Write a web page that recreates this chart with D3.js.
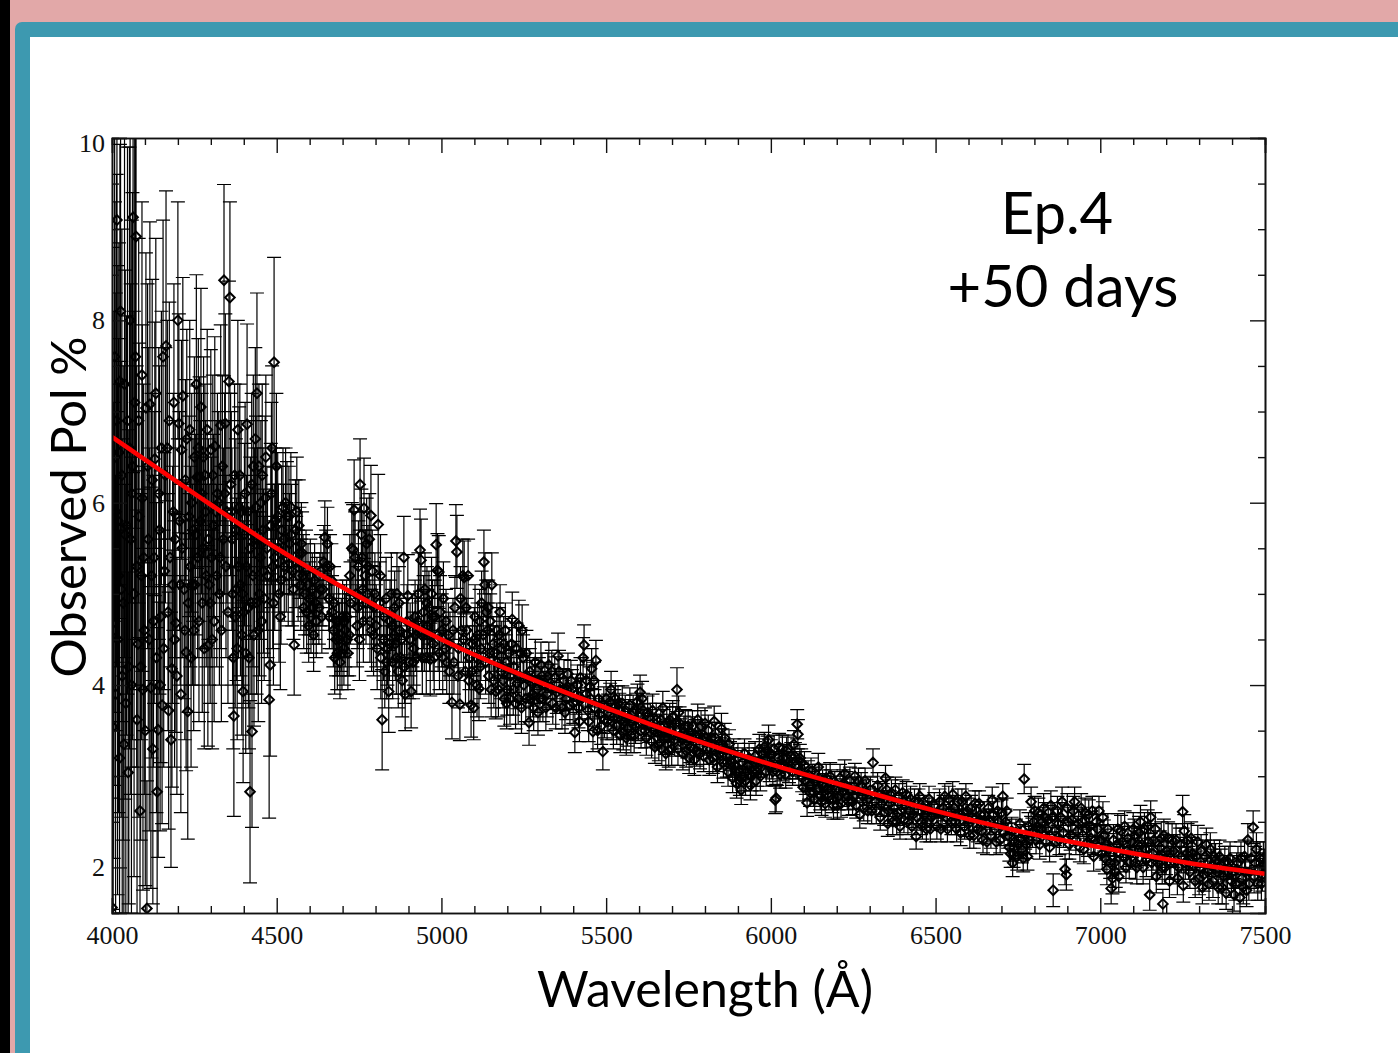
<!DOCTYPE html>
<html>
<head>
<meta charset="utf-8">
<script src="https://cdn.jsdelivr.net/npm/d3@7"></script>
<style>
html, body { margin: 0; padding: 0; background: #fff; overflow: hidden; }
svg { display: block; }
.serif text { font-family: "Liberation Serif", serif; font-size: 26px; fill: #111; }
.label { font-family: Lato, "Open Sans", sans-serif; fill: #000; }
</style>
</head>
<body>
<div id="viz"></div>
<script>
// [wavelength, observed pol, pol error], one array per stretch
const obs4000 = [[4000,1.56,1.2],[4003,3.54,2.0],[4006,5.5,2.6],[4009,6.5,2.8],[4012,5.9,2.4],[4015,9.1,2.1],[4018,5.8,2.8],[4021,6.55,2.3],[4024,7.33,2.6],[4028,5.05,2.5],[4031,4.1,2.6],[4036,3.35,2.4],[4040,5.65,2.9],[4044,5.75,2.3],[4049,3.04,2.2],[4053,6.6,3.3],[4057,5.6,2.8],[4060,6.1,3.0],[4064,9.13,2.8],[4069,7.1,3.1],[4073,8.92,3.2],[4076,3.62,2.3],[4079,4.45,1.9],[4082,5.85,1.9],[4085,2.62,1.9],[4089,5.2,1.8],[4092,6.05,1.9],[4094,3.95,2.2],[4098,4.6,1.8],[4103,7.04,1.7],[4106,1.55,1.4],[4110,5.6,2.1],[4115,7.08,2.0],[4118,3.97,2.2],[4122,6.25,2.2],[4126,4.7,1.6],[4130,6.48,1.5],[4137,2.83,1.8],[4140,3.51,1.4],[4144,5.7,1.8],[4148,4.75,1.6],[4152,3.78,1.3]];
const obs4000b = [[4002,6.2,2.6],[4005,4.6,2.5],[4008,7.6,2.9],[4011,3.9,2.4],[4014,6.9,2.7],[4017,4.5,2.8],[4020,5.2,2.6],[4023,3.2,2.5],[4026,8.1,3.0],[4030,6.3,2.7],[4034,4.9,2.6],[4038,7.3,3.0],[4042,3.8,2.4],[4047,6.9,3.0],[4051,4.2,2.6],[4055,8.0,3.1],[4059,4.0,2.5],[4062,6.4,3.0],[4067,5.0,3.1],[4071,7.6,3.1],[4075,5.3,2.2],[4081,6.9,2.0],[4087,4.2,1.9],[4091,7.4,1.9],[4096,5.4,1.9],[4101,3.5,1.7],[4108,6.4,2.0],[4113,4.5,2.1],[4120,5.2,2.0],[4124,3.3,1.7],[4128,5.4,1.6],[4133,7.2,1.7],[4135,4.3,1.7],[4142,6.1,1.6],[4146,4.0,1.6],[4150,6.6,1.5]];
const obs4150 = [[4155,7.6,1.5],[4159,5.25,1.3],[4164,7.72,1.7],[4168,6.6,1.4],[4172,3.72,1.3],[4176,5.4,1.2],[4182,4.18,1.3],[4186,5.9,1.3],[4190,4.5,1.4],[4194,4.68,1.2],[4200,8.0,1.3],[4203,6.87,1.2],[4207,5.1,1.1],[4211,6.58,1.2],[4215,7.17,1.3],[4219,5.05,1.2],[4223,6.25,1.1],[4225,4.36,1.3],[4230,3.71,1.4],[4234,5.85,1.1],[4238,5.3,1.1],[4242,6.0,1.2],[4246,5.7,1.0],[4250,6.5,1.1],[4254,5.65,1.1],[4258,6.28,1.0],[4262,6.6,1.2],[4266,6.28,1.1],[4270,7.05,1.3],[4274,4.9,1.2],[4278,6.5,1.1],[4282,6.3,1.0],[4286,5.2,1.0],[4291,4.43,1.1],[4295,5.1,1.1],[4300,6.58,1.1],[4304,4.5,1.2],[4308,5.75,1.0],[4312,6.62,1.2],[4316,5.9,1.0],[4320,6.1,1.1],[4326,5.0,1.0],[4330,6.85,1.1],[4335,6.4,1.0],[4340,8.44,1.05],[4344,6.87,1.2],[4349,5.9,1.0],[4355,7.33,1.1],[4358,8.25,1.05],[4362,5.9,1.1],[4366,5.0,1.0],[4370,3.66,1.1],[4374,4.75,1.0],[4378,5.05,1.0],[4382,6.8,1.2],[4386,5.95,1.1],[4390,5.1,1.0],[4394,4.55,1.1],[4398,3.93,1.0],[4402,5.65,1.0],[4406,4.35,1.1],[4410,6.86,1.1],[4414,4.85,1.1],[4419,2.83,1.0],[4422,4.9,1.0],[4425,3.49,1.05],[4429,6.4,1.0],[4433,5.6,1.0],[4437,5.95,1.0],[4440,7.2,1.1],[4444,4.6,1.0],[4448,5.0,0.9],[4452,6.0,0.9],[4456,6.3,1.0],[4460,5.25,0.9],[4465,6.05,0.9],[4470,5.5,0.9],[4477,3.84,1.3],[4480,4.22,1.0],[4484,6.1,1.0],[4488,5.3,0.9],[4492,7.54,1.15],[4496,5.8,0.8],[4499,6.4,0.8]];
const obs4150b = [[4157,4.4,1.3],[4162,6.3,1.4],[4170,4.8,1.3],[4174,6.9,1.3],[4179,3.4,1.4],[4184,5.1,1.3],[4188,7.1,1.3],[4192,5.6,1.3],[4197,4.1,1.3],[4205,5.8,1.2],[4209,3.9,1.3],[4213,5.5,1.2],[4221,4.6,1.2],[4227,6.7,1.2],[4232,4.9,1.2],[4236,6.8,1.2],[4240,4.3,1.2],[4244,5.1,1.1],[4248,4.6,1.1],[4252,5.1,1.1],[4256,7.3,1.2],[4260,5.4,1.1],[4264,4.7,1.1],[4268,5.8,1.1],[4272,6.1,1.1],[4276,5.5,1.1],[4280,4.4,1.1],[4284,5.9,1.0],[4289,6.8,1.1],[4293,5.6,1.1],[4298,4.9,1.1],[4302,5.4,1.1],[4306,6.3,1.1],[4310,4.7,1.1],[4318,5.2,1.0],[4324,6.0,1.0],[4328,5.4,1.0],[4332,4.6,1.0],[4338,5.6,1.0],[4342,6.1,1.1],[4346,5.3,1.0],[4352,4.8,1.0],[4360,6.2,1.0],[4364,5.6,1.0],[4368,4.3,1.0],[4372,6.3,1.0],[4376,5.7,1.0],[4380,4.4,1.0],[4384,5.3,1.0],[4388,6.3,1.0],[4392,5.9,1.0],[4396,5.0,1.0],[4400,4.8,1.0],[4404,6.1,1.0],[4408,5.3,1.0],[4412,5.9,1.0],[4416,4.3,1.0],[4420,5.5,1.0],[4424,6.2,1.0],[4428,5.2,1.0],[4431,4.55,1.0],[4435,6.7,1.0],[4439,4.9,1.0],[4442,5.6,1.0],[4446,6.4,0.9],[4450,5.4,0.9],[4454,4.7,0.9],[4458,5.7,0.9],[4462,4.95,0.9],[4467,6.5,0.9],[4472,5.2,0.9],[4482,5.75,0.9],[4486,6.6,0.9],[4490,4.9,0.9],[4494,5.4,0.8]];
const obs4500 = [[4503,5.85,0.7],[4507,5.0,0.75],[4511,4.75,0.8],[4515,5.7,0.7],[4519,5.95,0.65],[4523,5.3,0.6],[4527,6.0,0.6],[4531,5.85,0.6],[4535,5.2,0.55],[4539,5.55,0.55],[4543,5.95,0.6],[4547,5.25,0.6],[4553,4.44,0.55],[4557,5.7,0.55],[4561,5.9,0.6],[4565,5.2,0.5],[4569,5.45,0.5],[4573,5.1,0.5],[4577,5.45,0.45],[4582,4.85,0.45],[4586,5.0,0.45],[4591,4.8,0.45],[4595,5.1,0.45],[4599,4.95,0.4],[4604,4.75,0.4],[4608,5.05,0.4],[4612,4.55,0.4],[4617,4.9,0.4],[4622,5.0,0.4],[4628,4.85,0.4],[4634,5.25,0.4],[4640,5.05,0.4],[4646,5.62,0.4],[4650,5.3,0.4],[4654,5.55,0.4],[4658,4.95,0.35],[4662,5.3,0.35],[4666,5.15,0.4],[4672,4.6,0.4],[4676,4.3,0.4],[4680,4.5,0.4],[4684,4.35,0.4],[4688,4.7,0.4],[4692,4.25,0.4],[4696,4.55,0.4],[4700,4.75,0.4],[4704,4.4,0.4],[4708,4.6,0.4],[4712,4.75,0.4],[4716,4.35,0.4],[4720,4.55,0.45],[4724,4.9,0.45],[4728,5.5,0.5],[4732,5.48,0.5],[4735,5.92,0.55],[4740,5.0,0.45],[4744,4.65,0.45],[4748,5.3,0.5],[4753,6.2,0.5],[4757,5.65,0.5],[4761,5.05,0.5],[4765,5.94,0.55],[4769,5.2,0.5],[4773,5.55,0.5],[4777,5.3,0.45],[4781,5.6,0.5],[4786,5.86,0.55],[4790,5.25,0.45],[4794,4.55,0.45],[4798,5.0,0.45],[4802,4.65,0.45],[4808,5.76,0.55],[4812,4.9,0.45],[4816,4.3,0.45],[4820,3.62,0.55],[4824,4.5,0.45],[4828,4.15,0.4],[4832,4.95,0.45],[4836,4.4,0.4],[4840,3.93,0.45],[4844,4.7,0.45],[4848,5.0,0.45],[4852,4.25,0.4],[4856,4.55,0.45],[4860,4.45,0.4],[4865,5.0,0.45],[4869,4.15,0.4],[4873,4.6,0.4],[4877,4.3,0.4],[4881,4.05,0.4],[4886,5.4,0.45],[4890,3.9,0.4],[4894,4.55,0.4],[4898,4.98,0.45],[4902,4.25,0.4],[4908,3.93,0.4],[4912,4.6,0.4],[4916,4.4,0.4],[4920,4.75,0.4],[4925,4.3,0.4],[4930,5.0,0.45],[4935,5.48,0.45],[4938,5.37,0.45],[4942,4.3,0.4],[4946,4.8,0.4],[4950,5.05,0.4],[4954,4.3,0.4],[4958,4.65,0.4],[4962,4.85,0.4],[4966,4.28,0.4],[4970,5.0,0.4],[4975,4.45,0.4],[4980,4.75,0.4],[4984,5.54,0.45],[4988,5.26,0.4],[4992,5.24,0.4],[4996,4.8,0.4]];
const obs4500b = [[4505,5.5,0.7],[4513,5.15,0.7],[4521,5.6,0.6],[4529,5.4,0.6],[4537,5.85,0.55],[4545,5.65,0.55],[4551,5.05,0.55],[4559,5.35,0.5],[4567,5.75,0.5],[4575,5.55,0.45],[4580,5.2,0.45],[4589,5.25,0.45],[4597,4.65,0.4],[4602,5.2,0.4],[4610,4.85,0.4],[4615,5.15,0.4],[4620,4.7,0.4],[4631,5.05,0.4],[4637,4.75,0.4],[4643,5.35,0.4],[4660,4.75,0.35],[4668,4.8,0.4],[4674,4.9,0.4],[4682,4.7,0.4],[4690,4.5,0.4],[4698,4.35,0.4],[4706,4.7,0.4],[4714,4.5,0.4],[4722,5.2,0.45],[4738,5.4,0.5],[4746,4.85,0.45],[4751,4.5,0.45],[4759,5.4,0.5],[4763,4.7,0.45],[4771,4.9,0.45],[4775,5.0,0.45],[4783,4.7,0.45],[4788,4.6,0.45],[4796,4.85,0.45],[4805,4.4,0.45],[4815,5.2,0.45],[4826,4.75,0.4],[4834,4.25,0.4],[4842,4.45,0.4],[4850,4.65,0.4],[4858,4.85,0.4],[4863,4.3,0.4],[4871,4.9,0.4],[4879,4.5,0.4],[4888,4.2,0.4],[4896,4.7,0.4],[4905,4.5,0.4],[4914,4.25,0.4],[4922,4.55,0.4],[4928,4.7,0.4],[4940,4.55,0.4],[4948,4.55,0.4],[4956,4.9,0.4],[4964,4.55,0.4],[4973,4.75,0.4],[4978,4.3,0.4],[4990,4.55,0.4],[4994,4.35,0.4]];
const obs5000 = [[5001,4.6,0.4],[5006,4.95,0.4],[5011,4.4,0.35],[5016,4.25,0.35],[5021,4.55,0.35],[5026,4.45,0.35],[5032,3.81,0.4],[5038,4.25,0.35],[5044,5.58,0.4],[5047,5.46,0.4],[5052,4.4,0.35],[5056,3.79,0.4],[5060,4.6,0.35],[5065,5.2,0.4],[5069,5.18,0.4],[5073,4.15,0.35],[5077,4.6,0.35],[5081,5.2,0.4],[5085,4.3,0.35],[5090,3.78,0.35],[5094,4.45,0.35],[5098,3.75,0.35],[5102,4.75,0.35],[5106,4.3,0.35],[5110,4.55,0.35],[5114,3.96,0.35],[5118,4.2,0.35],[5122,4.9,0.35],[5129,5.35,0.35],[5132,5.1,0.35],[5136,4.8,0.35],[5140,4.6,0.3],[5144,4.1,0.3],[5148,4.7,0.3],[5153,5.1,0.35],[5157,4.45,0.3],[5161,4.35,0.3],[5165,3.93,0.3],[5170,4.25,0.3],[5175,4.55,0.3],[5178,4.8,0.3],[5183,4.4,0.3],[5187,4.05,0.3],[5191,3.85,0.3],[5196,4.25,0.3],[5200,3.95,0.28],[5205,4.35,0.28],[5210,4.1,0.28],[5215,4.72,0.3],[5220,4.2,0.28],[5225,3.8,0.28],[5230,4.02,0.28],[5235,4.65,0.28],[5240,4.35,0.28],[5245,4.6,0.28],[5250,4.0,0.25],[5256,3.85,0.25],[5260,4.1,0.25],[5266,3.59,0.25],[5270,3.85,0.25],[5275,4.02,0.25],[5280,3.75,0.25],[5285,4.25,0.25],[5290,3.95,0.25],[5296,4.05,0.25],[5302,4.22,0.25],[5308,3.85,0.25],[5314,4.0,0.25],[5320,3.9,0.25],[5326,4.22,0.25],[5332,3.98,0.25],[5338,3.8,0.23],[5344,4.08,0.23],[5350,3.92,0.23],[5354,4.32,0.25],[5360,3.95,0.23],[5366,3.75,0.23],[5372,4.05,0.23],[5378,3.85,0.23],[5384,4.12,0.23],[5390,3.78,0.22],[5396,3.95,0.22],[5405,3.48,0.22],[5410,3.9,0.22],[5416,3.75,0.22],[5422,4.08,0.22],[5430,4.3,0.22],[5433,4.44,0.22],[5438,3.9,0.22],[5444,3.72,0.22],[5450,3.98,0.22],[5456,4.18,0.22],[5460,3.49,0.22],[5465,3.75,0.2],[5469,4.27,0.22],[5474,3.5,0.2],[5480,3.68,0.2],[5490,3.27,0.2],[5495,3.62,0.2]];
const obs5000b = [[5004,4.3,0.4],[5014,4.7,0.35],[5024,4.15,0.35],[5035,4.6,0.35],[5041,4.85,0.35],[5050,4.1,0.35],[5058,4.95,0.35],[5067,4.5,0.35],[5075,4.85,0.35],[5083,4.05,0.35],[5092,4.15,0.35],[5100,4.5,0.35],[5108,4.0,0.35],[5116,4.7,0.35],[5120,4.4,0.35],[5127,4.55,0.35],[5134,4.25,0.35],[5142,4.85,0.3],[5146,4.35,0.3],[5151,3.95,0.3],[5159,4.05,0.3],[5168,4.6,0.3],[5173,3.95,0.3],[5181,4.15,0.3],[5189,4.45,0.3],[5194,4.6,0.3],[5198,3.8,0.28],[5208,3.85,0.28],[5213,4.45,0.28],[5218,3.95,0.28],[5228,4.4,0.28],[5233,3.85,0.28],[5238,4.1,0.28],[5243,3.75,0.28],[5248,4.3,0.25],[5258,4.35,0.25],[5268,4.15,0.25],[5277,3.9,0.25],[5283,4.05,0.25],[5293,3.7,0.25],[5299,3.85,0.25],[5305,4.1,0.25],[5317,3.75,0.25],[5323,4.1,0.25],[5335,4.15,0.23],[5347,3.75,0.23],[5357,4.15,0.23],[5369,3.95,0.23],[5375,3.7,0.23],[5381,3.95,0.22],[5393,4.05,0.22],[5400,3.8,0.22],[5413,4.0,0.22],[5419,3.6,0.22],[5426,3.85,0.22],[5441,4.05,0.22],[5447,3.6,0.22],[5453,3.85,0.22],[5463,4.05,0.2],[5477,3.85,0.2],[5485,3.55,0.2],[5493,3.78,0.2]];
const obs5500 = [[5500,3.85,0.2],[5506,3.7,0.2],[5512,3.82,0.2],[5518,3.6,0.2],[5525,3.75,0.2],[5532,3.55,0.2],[5540,3.72,0.19],[5546,3.62,0.19],[5552,3.48,0.19],[5558,3.7,0.19],[5565,3.52,0.19],[5572,3.78,0.19],[5578,3.6,0.19],[5585,3.45,0.19],[5592,3.72,0.19],[5598,3.58,0.19],[5603,3.92,0.19],[5609,3.85,0.19],[5615,3.6,0.19],[5622,3.42,0.19],[5630,3.55,0.18],[5638,3.38,0.18],[5645,3.5,0.18],[5652,3.62,0.18],[5660,3.35,0.18],[5666,3.62,0.18],[5672,3.75,0.18],[5678,3.42,0.18],[5684,3.58,0.18],[5690,3.28,0.18],[5696,3.5,0.18],[5702,3.65,0.18],[5708,3.4,0.18],[5715,3.95,0.24],[5720,3.7,0.18],[5726,3.45,0.18],[5733,3.25,0.18],[5740,3.55,0.18],[5746,3.38,0.18],[5752,3.2,0.17],[5758,3.48,0.17],[5765,3.3,0.17],[5772,3.45,0.17],[5778,3.62,0.17],[5785,3.25,0.17],[5792,3.4,0.17],[5800,3.58,0.17],[5806,3.3,0.17],[5813,3.18,0.17],[5820,3.42,0.17],[5828,3.6,0.17],[5835,3.22,0.17],[5842,3.35,0.17],[5850,3.52,0.17],[5856,3.15,0.17],[5863,3.3,0.16],[5870,3.05,0.16],[5876,3.22,0.16],[5884,2.98,0.16],[5890,3.12,0.16],[5896,2.92,0.16],[5903,3.05,0.16],[5910,2.85,0.16],[5916,3.0,0.16],[5923,2.95,0.16],[5930,3.12,0.16],[5938,2.9,0.16],[5945,3.05,0.16],[5952,3.22,0.16],[5958,3.05,0.16],[5965,3.3,0.16],[5972,3.15,0.16],[5980,3.32,0.16],[5986,3.05,0.16],[5993,3.4,0.16]];
const obs5500b = [[5503,3.6,0.2],[5515,3.95,0.2],[5522,3.5,0.2],[5528,3.85,0.2],[5536,3.8,0.19],[5543,3.45,0.19],[5549,3.8,0.19],[5555,3.6,0.19],[5561,3.42,0.19],[5569,3.65,0.19],[5575,3.45,0.19],[5582,3.7,0.19],[5589,3.55,0.19],[5595,3.82,0.19],[5606,3.5,0.19],[5612,3.72,0.19],[5618,3.5,0.19],[5626,3.7,0.18],[5634,3.62,0.18],[5641,3.72,0.18],[5648,3.32,0.18],[5656,3.48,0.18],[5663,3.5,0.18],[5669,3.3,0.18],[5675,3.55,0.18],[5681,3.25,0.18],[5687,3.42,0.18],[5693,3.62,0.18],[5699,3.3,0.18],[5705,3.45,0.18],[5711,3.58,0.18],[5718,3.3,0.18],[5723,3.58,0.18],[5730,3.4,0.18],[5736,3.48,0.18],[5743,3.28,0.18],[5749,3.55,0.17],[5755,3.32,0.17],[5762,3.55,0.17],[5768,3.18,0.17],[5775,3.28,0.17],[5782,3.45,0.17],[5788,3.55,0.17],[5796,3.22,0.17],[5803,3.42,0.17],[5810,3.5,0.17],[5817,3.3,0.17],[5824,3.2,0.17],[5832,3.42,0.17],[5838,3.1,0.17],[5846,3.25,0.17],[5853,3.35,0.17],[5860,3.42,0.16],[5866,3.15,0.16],[5873,3.35,0.16],[5880,3.15,0.16],[5887,3.25,0.16],[5893,3.05,0.16],[5900,3.2,0.16],[5906,2.95,0.16],[5913,3.15,0.16],[5920,3.25,0.16],[5927,3.05,0.16],[5934,3.2,0.16],[5941,3.0,0.16],[5948,3.15,0.16],[5955,2.95,0.16],[5962,3.15,0.16],[5968,3.0,0.16],[5976,3.25,0.16],[5983,3.18,0.16],[5990,3.28,0.16],[5996,3.1,0.16]];
const obs6000 = [[6000,3.25,0.15],[6006,3.05,0.15],[6013,2.74,0.15],[6016,2.76,0.15],[6022,3.2,0.15],[6028,3.02,0.15],[6035,3.3,0.15],[6042,3.12,0.15],[6048,3.28,0.15],[6055,3.08,0.15],[6062,3.22,0.15],[6070,3.35,0.15],[6076,3.12,0.15],[6080,3.57,0.16],[6082,3.46,0.16],[6088,3.2,0.15],[6095,2.98,0.15],[6102,3.12,0.15],[6110,2.71,0.15],[6116,2.9,0.15],[6122,3.05,0.15],[6130,2.82,0.15],[6137,2.95,0.15],[6144,3.1,0.15],[6150,2.78,0.15],[6157,2.92,0.15],[6165,2.7,0.15],[6172,2.85,0.15],[6180,3.0,0.15],[6187,2.75,0.15],[6194,2.9,0.15],[6202,2.68,0.15],[6210,2.98,0.15],[6217,2.82,0.15],[6224,3.03,0.15],[6232,2.78,0.15],[6240,2.95,0.15],[6248,2.72,0.14],[6255,3.0,0.14],[6262,2.85,0.14],[6270,2.58,0.15],[6278,2.78,0.14],[6286,2.95,0.14],[6294,2.62,0.14],[6302,2.85,0.14],[6310,3.15,0.15],[6316,2.72,0.14],[6324,2.9,0.14],[6332,2.55,0.14],[6340,2.78,0.14],[6348,2.98,0.14],[6355,2.48,0.14],[6362,2.7,0.14],[6370,2.5,0.14],[6378,2.85,0.14],[6385,2.6,0.14],[6392,2.45,0.14],[6400,2.82,0.14],[6408,2.68,0.14],[6416,2.5,0.14],[6424,2.75,0.14],[6432,2.58,0.14],[6441,2.34,0.14],[6448,2.72,0.14],[6456,2.5,0.14],[6464,2.65,0.14],[6472,2.42,0.14],[6480,2.75,0.14],[6488,2.55,0.14],[6496,2.68,0.14]];
const obs6000b = [[6003,3.12,0.15],[6010,3.3,0.15],[6019,3.05,0.15],[6025,3.32,0.15],[6032,3.1,0.15],[6038,3.2,0.15],[6045,3.02,0.15],[6052,3.3,0.15],[6058,3.12,0.15],[6066,3.05,0.15],[6073,3.22,0.15],[6085,3.05,0.15],[6092,3.15,0.15],[6098,2.88,0.15],[6106,2.95,0.15],[6113,3.02,0.15],[6119,2.82,0.15],[6126,2.98,0.15],[6133,2.75,0.15],[6140,2.85,0.15],[6147,2.98,0.15],[6154,2.72,0.15],[6161,2.88,0.15],[6168,2.98,0.15],[6176,2.78,0.15],[6183,2.92,0.15],[6190,2.68,0.15],[6198,2.85,0.15],[6206,2.78,0.15],[6213,2.7,0.15],[6220,2.92,0.15],[6228,2.9,0.15],[6236,2.72,0.15],[6244,2.85,0.14],[6252,2.78,0.14],[6259,2.68,0.14],[6266,2.95,0.14],[6274,2.9,0.14],[6282,2.65,0.14],[6290,2.82,0.14],[6298,2.75,0.14],[6306,2.62,0.14],[6320,2.62,0.14],[6328,2.8,0.14],[6336,2.7,0.14],[6344,2.6,0.14],[6352,2.85,0.14],[6358,2.62,0.14],[6366,2.82,0.14],[6374,2.65,0.14],[6382,2.5,0.14],[6389,2.78,0.14],[6396,2.62,0.14],[6404,2.52,0.14],[6412,2.8,0.14],[6420,2.62,0.14],[6428,2.45,0.14],[6436,2.72,0.14],[6444,2.55,0.14],[6452,2.78,0.14],[6460,2.45,0.14],[6468,2.58,0.14],[6476,2.62,0.14],[6484,2.42,0.14],[6492,2.58,0.14]];
const obs6500 = [[6504,2.45,0.14],[6512,2.72,0.14],[6520,2.58,0.14],[6528,2.78,0.14],[6536,2.42,0.14],[6544,2.62,0.14],[6552,2.8,0.14],[6560,2.5,0.14],[6568,2.72,0.14],[6576,2.38,0.14],[6584,2.6,0.14],[6592,2.78,0.14],[6600,2.48,0.14],[6608,2.65,0.14],[6616,2.35,0.14],[6624,2.55,0.14],[6632,2.7,0.14],[6640,2.4,0.14],[6648,2.58,0.14],[6656,2.28,0.14],[6664,2.5,0.14],[6672,2.74,0.14],[6680,2.42,0.14],[6688,2.62,0.14],[6696,2.3,0.14],[6704,2.78,0.14],[6712,2.5,0.14],[6720,2.35,0.14],[6728,2.15,0.15],[6734,2.05,0.15],[6740,2.28,0.15],[6748,2.12,0.15],[6756,2.48,0.15],[6762,2.2,0.15],[6769,2.97,0.16],[6776,2.25,0.15],[6782,2.45,0.15],[6790,2.72,0.16],[6798,2.5,0.16],[6805,2.3,0.15],[6812,2.6,0.16],[6820,2.42,0.16],[6828,2.65,0.16],[6835,2.28,0.16],[6842,2.52,0.16],[6850,2.68,0.16],[6857,1.75,0.18],[6862,2.4,0.16],[6870,2.62,0.16],[6876,2.3,0.16],[6884,2.72,0.16],[6893,1.98,0.17],[6897,1.92,0.17],[6903,2.5,0.16],[6910,2.35,0.16],[6918,2.62,0.16],[6926,2.3,0.16],[6934,2.48,0.16],[6942,2.65,0.16],[6950,2.2,0.16],[6958,2.42,0.16],[6965,2.58,0.16],[6972,2.32,0.16],[6980,2.12,0.16],[6988,2.5,0.16],[6996,2.62,0.16]];
const obs6500b = [[6508,2.6,0.14],[6516,2.42,0.14],[6524,2.65,0.14],[6532,2.55,0.14],[6540,2.75,0.14],[6548,2.5,0.14],[6556,2.65,0.14],[6564,2.42,0.14],[6572,2.58,0.14],[6580,2.72,0.14],[6588,2.45,0.14],[6596,2.62,0.14],[6604,2.35,0.14],[6612,2.55,0.14],[6620,2.7,0.14],[6628,2.42,0.14],[6636,2.58,0.14],[6644,2.3,0.14],[6652,2.5,0.14],[6660,2.65,0.14],[6668,2.35,0.14],[6676,2.58,0.14],[6684,2.28,0.14],[6692,2.5,0.14],[6700,2.6,0.14],[6708,2.38,0.14],[6716,2.62,0.14],[6724,2.22,0.15],[6731,2.4,0.15],[6737,2.15,0.15],[6744,2.38,0.15],[6752,2.25,0.15],[6759,2.32,0.15],[6766,2.1,0.15],[6772,2.35,0.15],[6779,2.12,0.15],[6786,2.3,0.15],[6794,2.38,0.16],[6801,2.62,0.16],[6808,2.45,0.16],[6816,2.25,0.16],[6824,2.5,0.16],[6832,2.55,0.16],[6838,2.42,0.16],[6846,2.22,0.16],[6854,2.55,0.16],[6866,2.28,0.16],[6873,2.48,0.16],[6880,2.55,0.16],[6888,2.38,0.16],[6900,2.65,0.16],[6906,2.25,0.16],[6914,2.52,0.16],[6922,2.72,0.16],[6930,2.4,0.16],[6938,2.22,0.16],[6946,2.5,0.16],[6954,2.6,0.16],[6962,2.28,0.16],[6968,2.45,0.16],[6976,2.62,0.16],[6984,2.3,0.16],[6992,2.42,0.16]];
const obs7000 = [[7003,2.3,0.17],[7008,2.55,0.17],[7014,2.1,0.17],[7020,1.98,0.17],[7026,2.2,0.17],[7033,1.77,0.17],[7037,1.88,0.17],[7043,2.05,0.17],[7050,2.25,0.17],[7056,1.9,0.17],[7063,2.4,0.17],[7070,2.12,0.17],[7078,2.0,0.17],[7084,2.32,0.17],[7092,2.15,0.17],[7100,2.42,0.18],[7107,2.05,0.18],[7114,2.25,0.18],[7122,2.5,0.18],[7130,2.0,0.18],[7137,2.2,0.18],[7144,2.45,0.18],[7150,1.7,0.17],[7156,2.05,0.18],[7163,2.3,0.18],[7170,1.9,0.18],[7178,2.12,0.18],[7185,2.32,0.18],[7190,1.6,0.16],[7196,2.0,0.18],[7203,2.18,0.18],[7210,1.85,0.18],[7218,2.3,0.18],[7226,2.05,0.18],[7234,1.88,0.18],[7242,2.25,0.18],[7250,2.61,0.18],[7252,1.8,0.18],[7258,2.05,0.18],[7265,2.3,0.18],[7272,1.95,0.18],[7280,2.15,0.18],[7288,1.85,0.18],[7296,2.28,0.18],[7303,2.0,0.18],[7310,1.78,0.18],[7318,2.12,0.18],[7326,1.95,0.18],[7334,2.2,0.18],[7342,1.85,0.18],[7350,2.08,0.18],[7358,1.78,0.18],[7366,2.02,0.18],[7374,1.9,0.18],[7382,1.72,0.18],[7390,2.05,0.18],[7398,1.85,0.18],[7406,1.7,0.18],[7414,1.98,0.18],[7424,1.67,0.18],[7430,1.88,0.18],[7438,2.12,0.18],[7444,1.75,0.18],[7448,2.3,0.18],[7454,1.95,0.18],[7464,2.44,0.18],[7470,2.05,0.18],[7478,1.82,0.18],[7485,2.1,0.18],[7492,1.92,0.18],[7498,2.02,0.18]];
const obs7000b = [[7006,2.15,0.17],[7011,2.35,0.17],[7017,2.25,0.17],[7023,2.42,0.17],[7030,2.05,0.17],[7040,2.3,0.17],[7047,1.95,0.17],[7053,2.42,0.17],[7060,2.15,0.17],[7067,2.28,0.17],[7074,2.45,0.17],[7081,2.18,0.17],[7088,2.05,0.17],[7096,2.28,0.17],[7104,2.35,0.18],[7111,2.0,0.18],[7118,2.38,0.18],[7126,2.25,0.18],[7134,2.42,0.18],[7140,2.08,0.18],[7147,2.28,0.18],[7153,2.55,0.18],[7160,2.15,0.18],[7167,2.42,0.18],[7174,2.05,0.18],[7181,2.22,0.18],[7188,2.0,0.18],[7193,2.35,0.18],[7200,2.1,0.18],[7206,2.32,0.18],[7214,2.05,0.18],[7222,2.18,0.18],[7230,2.3,0.18],[7238,2.0,0.18],[7246,2.12,0.18],[7255,2.4,0.18],[7262,2.15,0.18],[7268,2.05,0.18],[7276,2.32,0.18],[7284,2.02,0.18],[7292,2.12,0.18],[7300,1.88,0.18],[7306,2.18,0.18],[7314,1.92,0.18],[7322,2.25,0.18],[7330,1.82,0.18],[7338,2.02,0.18],[7346,2.12,0.18],[7354,1.95,0.18],[7362,2.12,0.18],[7370,1.78,0.18],[7378,2.05,0.18],[7386,1.95,0.18],[7394,2.1,0.18],[7402,1.95,0.18],[7410,1.82,0.18],[7418,2.05,0.18],[7427,2.1,0.18],[7434,1.78,0.18],[7441,1.95,0.18],[7451,1.82,0.18],[7458,2.1,0.18],[7467,1.9,0.18],[7474,2.2,0.18],[7482,1.98,0.18],[7489,1.82,0.18],[7495,2.1,0.18]];

// red fit, read at a few wavelengths
const fitWave = [4000, 4250, 4500, 4750, 5000, 5250, 5500, 5750, 6000, 6250, 6500, 6750, 7000, 7250, 7500];
const fitPol = [6.72, 6.1, 5.5, 4.97, 4.5, 4.1, 3.75, 3.42, 3.13, 2.87, 2.62, 2.4, 2.22, 2.06, 1.93];

const xMajor = [4000, 4500, 5000, 5500, 6000, 6500, 7000, 7500];
const xMinor = [4100, 4200, 4300, 4400, 4600, 4700, 4800, 4900, 5100, 5200, 5300, 5400, 5600, 5700, 5800, 5900, 6100, 6200, 6300, 6400, 6600, 6700, 6800, 6900, 7100, 7200, 7300, 7400];
const yMajor = [2, 4, 6, 8, 10];
const yMinor = [2.5, 3, 3.5, 4.5, 5, 5.5, 6.5, 7, 7.5, 8.5, 9, 9.5];

const WIDTH = 1398, HEIGHT = 1053;
const PLOT = { left: 112, right: 1265, top: 138, bottom: 913 };
const CAP = 7;   // half width of error bar cap
const DIAMOND = 4.8;

const points = [].concat(obs4000, obs4000b, obs4150, obs4150b, obs4500, obs4500b, obs5000, obs5000b, obs5500, obs5500b, obs6000, obs6000b, obs6500, obs6500b, obs7000, obs7000b);

const svg = d3.select('#viz').append('svg')
	.attr('width', WIDTH)
	.attr('height', HEIGHT);

// slide background
svg.append('rect').attr('width', WIDTH).attr('height', HEIGHT).attr('fill', '#e2a8a8');
svg.append('rect').attr('width', 10).attr('height', HEIGHT).attr('fill', '#000');
svg.append('rect').attr('x', 15).attr('y', 22).attr('width', WIDTH + 40).attr('height', HEIGHT + 40).attr('rx', 7).attr('fill', '#3d99b0');
svg.append('rect').attr('x', 30).attr('y', 37).attr('width', WIDTH).attr('height', HEIGHT).attr('fill', '#fff');

const xScale = d3.scaleLinear().domain([4000, 7500]).range([PLOT.left, PLOT.right]);
const yScale = d3.scaleLinear().domain([1.5, 10]).range([PLOT.bottom, PLOT.top]);

svg.append('clipPath').attr('id', 'plot-clip')
	.append('rect')
	.attr('x', PLOT.left)
	.attr('y', PLOT.top)
	.attr('width', PLOT.right - PLOT.left)
	.attr('height', PLOT.bottom - PLOT.top);

const marks = svg.append('g').attr('clip-path', 'url(#plot-clip)');

marks.append('g')
	.attr('fill', 'none')
	.attr('stroke', '#000')
	.attr('stroke-width', 1.2)
	.selectAll('path')
	.data(points)
	.enter()
	.append('path')
	.attr('d', (d) => {
		const x = xScale(d[0]), y0 = yScale(d[1] - d[2]), y1 = yScale(d[1] + d[2]);
		return 'M' + x + ',' + y0 + 'V' + y1
			+ 'M' + (x - CAP) + ',' + y0 + 'H' + (x + CAP)
			+ 'M' + (x - CAP) + ',' + y1 + 'H' + (x + CAP);
	});

marks.append('g')
	.attr('fill', 'none')
	.attr('stroke', '#000')
	.attr('stroke-width', 2)
	.selectAll('path')
	.data(points)
	.enter()
	.append('path')
	.attr('d', (d) => {
		const x = xScale(d[0]), y = yScale(d[1]);
		return 'M' + x + ',' + (y - DIAMOND) + 'L' + (x + DIAMOND) + ',' + y
			+ 'L' + x + ',' + (y + DIAMOND) + 'L' + (x - DIAMOND) + ',' + y + 'Z';
	});

const fitLine = d3.line()
	.x((d, i) => xScale(fitWave[i]))
	.y((d) => yScale(d))
	.curve(d3.curveMonotoneX);

marks.append('path')
	.attr('fill', 'none')
	.attr('stroke', '#f00')
	.attr('stroke-width', 4.6)
	.attr('d', fitLine(fitPol));

// axes, ticks point inward on all four sides
function drawAxis(axis, transform, cls) {
	const g = svg.append('g')
		.attr('class', cls || '')
		.attr('transform', transform)
		.call(axis);
	g.select('.domain').attr('stroke', '#111').attr('stroke-width', 1.6);
	g.selectAll('.tick line').attr('stroke', '#111').attr('stroke-width', 1.4);
	return g;
}

const noLabel = () => '';
const bottomT = 'translate(0,' + PLOT.bottom + ')';
const topT = 'translate(0,' + PLOT.top + ')';
const leftT = 'translate(' + PLOT.left + ',0)';
const rightT = 'translate(' + PLOT.right + ',0)';

drawAxis(d3.axisBottom(xScale).tickValues(xMinor).tickSize(-7).tickFormat(noLabel), bottomT);
drawAxis(d3.axisTop(xScale).tickValues(xMinor).tickSize(-7).tickFormat(noLabel), topT);
drawAxis(d3.axisLeft(yScale).tickValues(yMinor).tickSize(-7).tickFormat(noLabel), leftT);
drawAxis(d3.axisRight(yScale).tickValues(yMinor).tickSize(-7).tickFormat(noLabel), rightT);

drawAxis(d3.axisBottom(xScale).tickValues(xMajor).tickSize(-15).tickPadding(13).tickFormat(d3.format('d')), bottomT, 'serif');
drawAxis(d3.axisTop(xScale).tickValues(xMajor).tickSize(-15).tickFormat(noLabel), topT);
const yAxis = drawAxis(d3.axisLeft(yScale).tickValues(yMajor).tickSize(-15).tickPadding(7).tickFormat(d3.format('d')), leftT, 'serif');
drawAxis(d3.axisRight(yScale).tickValues(yMajor).tickSize(-15).tickFormat(noLabel), rightT);

// IDL pushes the top label down a little
yAxis.selectAll('.tick text').filter((d) => d === 10).attr('dy', '0.52em');

svg.append('text').attr('class', 'label')
	.attr('x', 705).attr('y', 1007)
	.attr('text-anchor', 'middle')
	.attr('font-size', 50)
	.text('Wavelength (Å)');

svg.append('text').attr('class', 'label')
	.attr('transform', 'translate(86,507) rotate(-90)')
	.attr('text-anchor', 'middle')
	.attr('font-size', 49)
	.text('Observed Pol %');

svg.append('text').attr('class', 'label')
	.attr('x', 1057).attr('y', 234)
	.attr('text-anchor', 'middle')
	.attr('font-size', 58)
	.text('Ep.4');

svg.append('text').attr('class', 'label')
	.attr('x', 1063).attr('y', 307)
	.attr('text-anchor', 'middle')
	.attr('font-size', 58)
	.text('+50 days');
</script>
</body>
</html>
